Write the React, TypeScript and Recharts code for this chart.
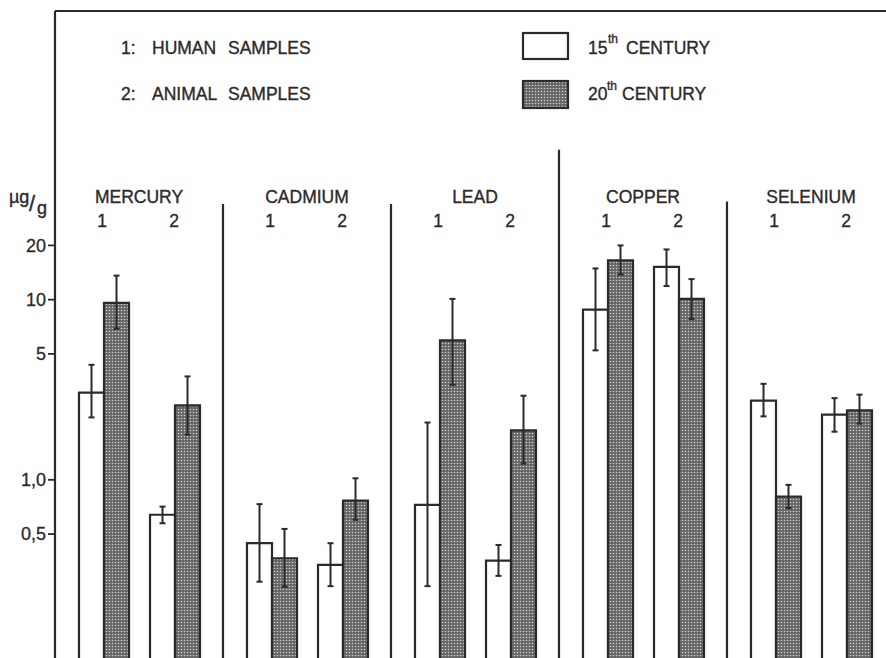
import React from 'react';
import { BarChart, Bar, XAxis, YAxis, ErrorBar, ReferenceLine } from 'recharts';

// Elements analysed; each has human (1) and animal (2) samples
const elements = ['MERCURY', 'CADMIUM', 'LEAD', 'COPPER', 'SELENIUM'];
const sampleLabels = ['1', '2'];

// Mean concentrations, µg/g
const human15 = [3.05, 0.445, 0.726, 8.8, 2.75];
const human20 = [9.6, 0.367, 5.94, 16.5, 0.808];
const animal15 = [0.64, 0.337, 0.356, 15.2, 2.3];
const animal20 = [2.59, 0.767, 1.88, 10.1, 2.43];

// Range shown by the error bars (low / high), µg/g
const human15Lo = [2.22, 0.272, 0.257, 5.23, 2.25];
const human15Hi = [4.35, 0.733, 2.08, 14.9, 3.41];
const human20Lo = [6.9, 0.255, 3.37, 13.8, 0.697];
const human20Hi = [13.6, 0.534, 10.1, 20, 0.938];
const animal15Lo = [0.574, 0.257, 0.293, 11.9, 1.85];
const animal15Hi = [0.71, 0.445, 0.435, 19, 2.84];
const animal20Lo = [1.78, 0.6, 1.23, 7.8, 2.05];
const animal20Hi = [3.75, 1.02, 2.93, 13, 2.97];

// Value axis
const yTicks = [0.5, 1, 5, 10, 20];
const yTickLabels = ['0,5', '1,0', '5', '10', '20'];
const yMin = 0.1;
const yMax = 400;

// Height (µg/g) where each separator line begins, for the line left of that element
const separatorTops = [null, 34, 34, 68, 35];

const rows = elements.map((name, i) => ({
  name,
  h15: human15[i],
  h20: human20[i],
  a15: animal15[i],
  a20: animal20[i],
  h15Err: [human15[i] - human15Lo[i], human15Hi[i] - human15[i]],
  h20Err: [human20[i] - human20Lo[i], human20Hi[i] - human20[i]],
  a15Err: [animal15[i] - animal15Lo[i], animal15Hi[i] - animal15[i]],
  a20Err: [animal20[i] - animal20Lo[i], animal20Hi[i] - animal20[i]],
}));

const INK = '#2a2a2a';
const FONT = '"Liberation Sans", Arial, Helvetica, sans-serif';
const textStyle = { fill: INK, stroke: INK, strokeWidth: 0.35 };

// Element name plus the "1" / "2" sample labels, drawn above each group
const ElementTick = (props: any) => {
  const { x, payload } = props;
  return (
    <g fontFamily={FONT} fontSize={17.5} style={textStyle}>
      <text x={x} y={203} textAnchor="middle" style={textStyle}>
        {payload.value}
      </text>
      <text x={x - 37} y={227} textAnchor="middle" style={textStyle}>
        {sampleLabels[0]}
      </text>
      <text x={x + 35} y={227} textAnchor="middle" style={textStyle}>
        {sampleLabels[1]}
      </text>
    </g>
  );
};

const barProps = {
  stroke: INK,
  strokeWidth: 2.2,
  barSize: 25,
  isAnimationActive: false,
};

const errProps = {
  width: 3,
  stroke: INK,
  strokeWidth: 2,
};

export default function App() {
  return (
    <div
      style={{
        position: 'fixed',
        left: 0,
        top: 0,
        width: 886,
        height: 658,
        overflow: 'hidden',
        background: '#fff',
      }}
    >
      <svg width={0} height={0} style={{ position: 'absolute' }}>
        <defs>
          <pattern id="dots" width="3" height="3" patternUnits="userSpaceOnUse">
            <rect width="3" height="3" fill="#646464" />
            <circle cx="1.5" cy="1.5" r="0.8" fill="#cfcfcf" />
          </pattern>
        </defs>
      </svg>
      <BarChart
        width={900}
        height={680}
        data={rows}
        margin={{ top: 11, right: 5, bottom: 0, left: 0 }}
        barGap={0}
        barCategoryGap={0}
      >
        <XAxis
          dataKey="name"
          orientation="bottom"
          height={20}
          axisLine={false}
          tickLine={false}
          interval={0}
          tick={<ElementTick />}
        />
        <YAxis
          scale="log"
          domain={[yMin, yMax]}
          allowDataOverflow
          ticks={yTicks}
          tickFormatter={(v: number) => yTickLabels[yTicks.indexOf(v)] ?? ''}
          width={55}
          axisLine={{ stroke: INK, strokeWidth: 2.2 }}
          tickLine={{ stroke: INK, strokeWidth: 1.8 }}
          tickSize={7}
          tickMargin={2}
          tick={{ fill: INK, stroke: INK, strokeWidth: 0.3, fontSize: 18, fontFamily: FONT }}
        />
        <ReferenceLine y={yMax} stroke={INK} strokeWidth={2.2} />
        {elements.map((name, i) =>
          separatorTops[i] == null ? null : (
            <ReferenceLine
              key={name}
              segment={[
                { x: name, y: separatorTops[i] as number },
                { x: name, y: yMin },
              ]}
              position="start"
              stroke={INK}
              strokeWidth={2.2}
            />
          )
        )}
        <Bar dataKey="h15" fill="#ffffff" {...barProps}>
          <ErrorBar dataKey="h15Err" {...errProps} />
        </Bar>
        <Bar dataKey="h20" fill="url(#dots)" {...barProps}>
          <ErrorBar dataKey="h20Err" {...errProps} />
        </Bar>
        <Bar dataKey="gap" barSize={21} fill="none" isAnimationActive={false} />
        <Bar dataKey="a15" fill="#ffffff" {...barProps}>
          <ErrorBar dataKey="a15Err" {...errProps} />
        </Bar>
        <Bar dataKey="a20" fill="url(#dots)" {...barProps}>
          <ErrorBar dataKey="a20Err" {...errProps} />
        </Bar>
      </BarChart>
      <svg
        width={886}
        height={658}
        style={{ position: 'absolute', left: 0, top: 0, pointerEvents: 'none' }}
        fontFamily={FONT}
      >
        <g fontSize={17.5} style={textStyle}>
          <text x={121} y={54}>1:</text>
          <text x={152} y={54}>HUMAN</text>
          <text x={228} y={54}>SAMPLES</text>
          <text x={121} y={100}>2:</text>
          <text x={152} y={100}>ANIMAL</text>
          <text x={228} y={100}>SAMPLES</text>

          <text x={588} y={54}>15</text>
          <text x={608} y={43} fontSize={12}>th</text>
          <text x={626} y={54}>CENTURY</text>
          <text x={588} y={100}>20</text>
          <text x={607} y={90} fontSize={12}>th</text>
          <text x={622} y={100}>CENTURY</text>

          <text x={9} y={203} fontSize={18}>µg</text>
          <text x={29} y={211} fontSize={22}>/</text>
          <text x={37} y={214} fontSize={18}>g</text>
        </g>
        <rect x={523} y={33} width={45} height={26} fill="#fff" stroke={INK} strokeWidth={2.2} />
        <rect x={523} y={81} width={45} height={27} fill="url(#dots)" stroke={INK} strokeWidth={2.2} />
      </svg>
    </div>
  );
}
